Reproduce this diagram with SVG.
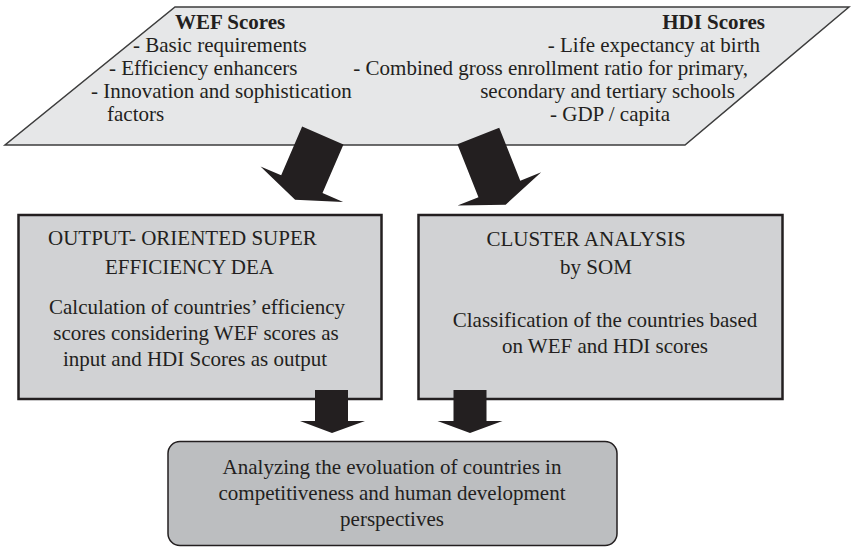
<svg xmlns="http://www.w3.org/2000/svg" width="851" height="550" viewBox="0 0 851 550">
<style>
text{font-family:"Liberation Serif","Times New Roman",serif;font-size:21px;fill:#231f20}
.b{font-weight:bold}
.e{text-anchor:end}
.m{text-anchor:middle}
.arrow{fill:#231f20}
</style>
<rect width="851" height="550" fill="#ffffff"/>
<g id="inputs">
<polygon points="175,7 849,7 685,145 5,145" fill="#e6e7e8" stroke="#3d3d3d" stroke-width="1.5"/>
<text x="175" y="29" class="b">WEF Scores</text>
<text x="133" y="52">- Basic requirements</text>
<text x="109" y="75">- Efficiency enhancers</text>
<text x="91" y="98">- Innovation and sophistication</text>
<text x="107" y="121">factors</text>
<text x="765" y="29" class="b e">HDI Scores</text>
<text x="760" y="52" class="e">- Life expectancy at birth</text>
<text x="748" y="75" class="e">- Combined gross enrollment ratio for primary,</text>
<text x="735" y="98" class="e">secondary and tertiary schools</text>
<text x="670" y="121" class="e">- GDP / capita</text>
</g>
<g id="dea">
<rect x="18.5" y="215" width="363" height="184" fill="#d1d2d4" stroke="#231f20" stroke-width="2.5"/>
<text x="48" y="245">OUTPUT- ORIENTED SUPER</text>
<text x="105" y="274">EFFICIENCY DEA</text>
<text x="197" y="314" class="m">Calculation of countries’ efficiency</text>
<text x="196" y="340" class="m">scores considering WEF scores as</text>
<text x="195" y="366" class="m">input and HDI Scores as output</text>
</g>
<g id="cluster">
<rect x="418.5" y="215" width="364" height="184" fill="#d1d2d4" stroke="#231f20" stroke-width="2.5"/>
<text x="586" y="246" class="m">CLUSTER ANALYSIS</text>
<text x="596" y="274" class="m">by SOM</text>
<text x="605" y="327" class="m">Classification of the countries based</text>
<text x="605" y="353" class="m">on WEF and HDI scores</text>
</g>
<g id="evolution">
<rect x="168" y="441.5" width="449" height="104" rx="12" ry="12" fill="#bcbec0" stroke="#231f20" stroke-width="1.5"/>
<text x="392" y="474" class="m">Analyzing the evoluation of countries in</text>
<text x="392" y="500" class="m">competitiveness and human development</text>
<text x="392" y="526" class="m">perspectives</text>
</g>
<g id="connectors">
<polygon class="arrow" transform="translate(322.8,135.5) rotate(23.3)" points="-22.5,0 22.5,0 22.5,53 45,53 0,70 -45,53 -22.5,53"/>
<polygon class="arrow" transform="translate(478.3,136) rotate(-21.7)" points="-22.5,0 22.5,0 22.5,57 45,57 0,74 -45,57 -22.5,57"/>
<polygon class="arrow" points="315,390 348,390 348,421 365,421 332,433 300,421 315,421"/>
<polygon class="arrow" points="453.5,390 486.5,390 486.5,421 502.5,421 470,433 437.5,421 453.5,421"/>
</g>
</svg>
